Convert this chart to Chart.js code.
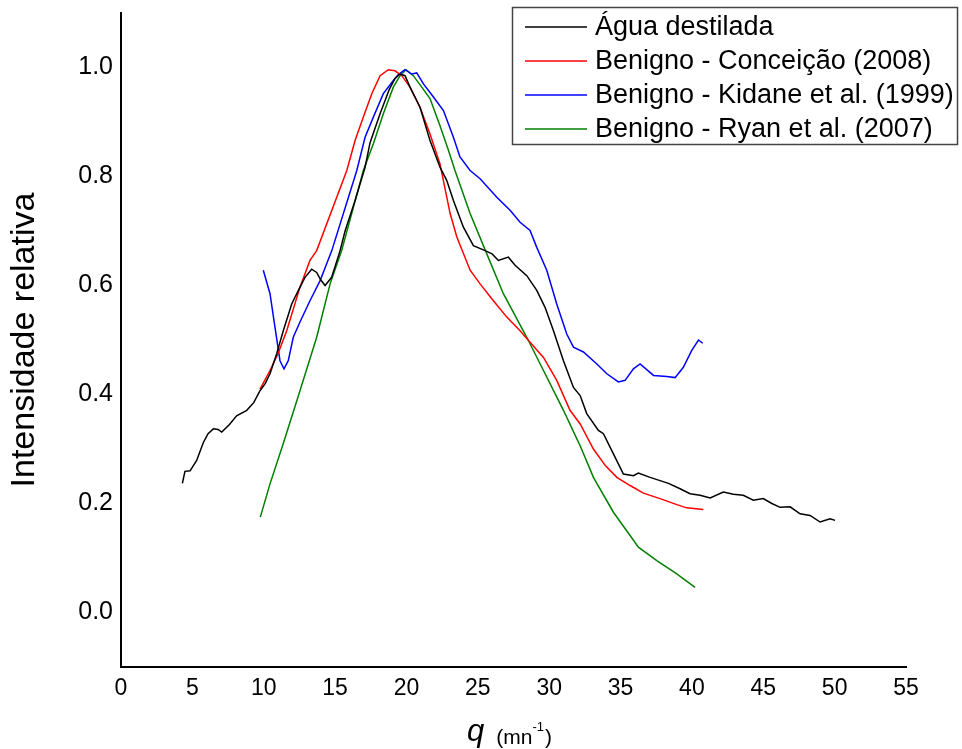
<!DOCTYPE html>
<html>
<head>
<meta charset="utf-8">
<script src="https://cdn.jsdelivr.net/npm/chart.js@4"></script>
<style>
html,body{margin:0;padding:0;background:#fff;}
canvas{display:block;}
</style>
</head>
<body>
<canvas id="c" width="962" height="749"></canvas>
<script>
// ---------- DATA ----------
const seriesLabels = ["Água destilada", "Benigno - Conceição (2008)", "Benigno - Kidane et al. (1999)", "Benigno - Ryan et al. (2007)"];
const seriesColors = ["#000000", "#ff0000", "#0000ff", "#008000"];

const aguaQ = [4.3, 4.48, 4.84, 5.3, 5.77, 6.1, 6.47, 6.8, 7.06, 7.6, 8.1, 8.81, 9.3, 9.74, 10.1, 10.44, 10.91, 11.37, 11.96, 12.43, 12.89, 13.36, 13.71, 14.0, 14.3, 14.76, 15.35, 15.7, 16.4, 17.1, 17.45, 18.15, 18.8, 19.2, 19.55, 19.9, 20.25, 20.95, 21.65, 22.35, 22.82, 23.29, 23.99, 24.69, 25.51, 26.0, 26.44, 27.14, 27.61, 28.43, 29.13, 29.71, 30.3, 31.0, 31.7, 32.17, 32.63, 33.45, 33.8, 34.5, 35.2, 35.9, 36.25, 37.07, 37.77, 38.36, 39.17, 39.87, 40.57, 41.28, 42.2, 42.91, 43.6, 44.3, 45.0, 45.6, 46.18, 46.88, 47.58, 48.28, 48.98, 49.68, 50.03];
const aguaI = [0.237, 0.259, 0.26, 0.279, 0.312, 0.328, 0.337, 0.336, 0.331, 0.345, 0.361, 0.371, 0.385, 0.407, 0.42, 0.438, 0.475, 0.517, 0.566, 0.591, 0.615, 0.63, 0.624, 0.61, 0.6, 0.615, 0.664, 0.70, 0.756, 0.817, 0.862, 0.915, 0.96, 0.98, 0.988, 0.985, 0.964, 0.927, 0.866, 0.817, 0.793, 0.756, 0.707, 0.673, 0.664, 0.658, 0.646, 0.652, 0.637, 0.618, 0.591, 0.56, 0.517, 0.462, 0.413, 0.398, 0.365, 0.334, 0.328, 0.291, 0.254, 0.251, 0.256, 0.248, 0.242, 0.237, 0.227, 0.218, 0.215, 0.21, 0.221, 0.217, 0.215, 0.206, 0.209, 0.2, 0.193, 0.194, 0.181, 0.178, 0.166, 0.172, 0.169];

const conceicaoQ = [9.74, 10.44, 11.0, 11.61, 12.54, 13.24, 13.71, 15.82, 16.4, 16.98, 17.57, 18.15, 18.73, 19.2, 19.67, 20.25, 20.95, 21.65, 22.35, 23.06, 23.53, 24.46, 25.16, 26.09, 27.03, 27.96, 28.66, 29.6, 30.53, 31.46, 32.17, 33.1, 33.92, 34.74, 35.67, 36.6, 37.77, 38.94, 39.64, 40.8];
const conceicaoI = [0.41, 0.444, 0.475, 0.517, 0.597, 0.646, 0.664, 0.811, 0.866, 0.909, 0.952, 0.985, 0.996, 0.994, 0.985, 0.964, 0.927, 0.878, 0.823, 0.732, 0.689, 0.628, 0.603, 0.572, 0.542, 0.517, 0.496, 0.468, 0.426, 0.371, 0.346, 0.3, 0.27, 0.248, 0.233, 0.219, 0.209, 0.198, 0.192, 0.189];

const kidaneQ = [9.97, 10.44, 10.79, 11.14, 11.42, 11.72, 12.07, 12.54, 13.24, 13.95, 14.41, 14.77, 16.52, 17.1, 17.68, 18.38, 19.08, 19.43, 19.9, 20.37, 20.72, 21.19, 21.89, 22.59, 23.29, 23.75, 24.46, 25.16, 26.33, 27.26, 27.96, 28.66, 29.13, 29.83, 30.53, 31.23, 31.7, 32.4, 33.34, 34.04, 34.85, 35.32, 35.9, 36.37, 37.31, 38.24, 38.82, 39.4, 39.99, 40.46, 40.76];
const kidaneI = [0.628, 0.585, 0.523, 0.462, 0.447, 0.462, 0.505, 0.533, 0.572, 0.609, 0.64, 0.664, 0.811, 0.872, 0.909, 0.952, 0.976, 0.987, 0.996, 0.988, 0.99, 0.97, 0.946, 0.921, 0.872, 0.836, 0.811, 0.796, 0.762, 0.738, 0.716, 0.701, 0.67, 0.628, 0.566, 0.511, 0.487, 0.478, 0.456, 0.438, 0.423, 0.426, 0.447, 0.456, 0.435, 0.433, 0.431, 0.45, 0.481, 0.5, 0.494];

const ryanQ = [9.76, 10.44, 11.37, 12.54, 13.71, 14.65, 15.46, 16.98, 17.68, 18.38, 19.08, 19.55, 19.97, 20.48, 21.07, 21.65, 22.35, 22.94, 23.4, 24.46, 25.63, 26.79, 28.43, 29.6, 31.0, 31.93, 32.17, 33.1, 34.5, 35.43, 36.25, 37.54, 38.94, 40.22];
const ryanI = [0.175, 0.236, 0.31, 0.407, 0.505, 0.603, 0.664, 0.811, 0.86, 0.915, 0.964, 0.985, 0.996, 0.985, 0.964, 0.943, 0.893, 0.848, 0.811, 0.732, 0.658, 0.585, 0.505, 0.444, 0.371, 0.319, 0.306, 0.248, 0.184, 0.15, 0.12, 0.095, 0.071, 0.046];

const xTicks = [0, 5, 10, 15, 20, 25, 30, 35, 40, 45, 50, 55];
const yTicks = [0.0, 0.2, 0.4, 0.6, 0.8, 1.0];
const yAxisTitle = "Intensidade relativa";
const xAxisTitleMain = "q";
const xAxisTitleUnit = "(mn";
const xAxisTitleSup = "-1";
const xAxisTitleEnd = ")";

// ---------- BUILD ----------
const FONT = '"Liberation Sans", Arial, sans-serif';
function pts(xs, ys) { return xs.map((x, i) => ({ x: x, y: ys[i] })); }
const allQ = [aguaQ, conceicaoQ, kidaneQ, ryanQ];
const allI = [aguaI, conceicaoI, kidaneI, ryanI];
const datasets = seriesLabels.map((lab, k) => ({
  label: lab,
  data: pts(allQ[k], allI[k]),
  borderColor: seriesColors[k],
  backgroundColor: seriesColors[k],
  borderWidth: 1.5,
  pointRadius: 0,
  tension: 0,
  fill: false
}));

const legendPlugin = {
  id: 'boxLegend',
  afterDraw(chart) {
    const ctx = chart.ctx;
    ctx.save();
    const bx = 512.5, by = 7.5, bw = 445, bh = 137;
    ctx.fillStyle = '#fff';
    ctx.fillRect(bx, by, bw, bh);
    ctx.strokeStyle = '#444';
    ctx.lineWidth = 1.5;
    ctx.strokeRect(bx, by, bw, bh);
    ctx.font = '27px ' + FONT;
    ctx.textBaseline = 'middle';
    ctx.textAlign = 'left';
    chart.data.datasets.forEach((ds, i) => {
      const y = 27 + i * 34;
      ctx.strokeStyle = ds.borderColor;
      ctx.lineWidth = 1.5;
      ctx.beginPath();
      ctx.moveTo(525, y);
      ctx.lineTo(587, y);
      ctx.stroke();
      ctx.fillStyle = '#000';
      ctx.fillText(ds.label, 595, y + 1);
    });
    ctx.restore();
  }
};

const xTitlePlugin = {
  id: 'xTitle',
  afterDraw(chart) {
    const ctx = chart.ctx;
    const area = chart.chartArea;
    ctx.save();
    ctx.fillStyle = '#000';
    ctx.textBaseline = 'alphabetic';
    ctx.textAlign = 'left';
    const fQ = 'italic 31px ' + FONT, fU = '21px ' + FONT, fS = '13px ' + FONT;
    ctx.font = fQ; const wQ = ctx.measureText(xAxisTitleMain).width;
    ctx.font = fU; const wU = ctx.measureText(xAxisTitleUnit).width; const wE = ctx.measureText(xAxisTitleEnd).width;
    ctx.font = fS; const wS = ctx.measureText(xAxisTitleSup).width;
    const gap = 12;
    const total = wQ + gap + wU + wS + 1 + wE;
    let x = (area.left + area.right) / 2 - total / 2 - 4;
    ctx.font = fQ; ctx.fillText(xAxisTitleMain, x, 741); x += wQ + gap;
    ctx.font = fU; ctx.fillText(xAxisTitleUnit, x, 744); x += wU;
    ctx.font = fS; ctx.fillText(xAxisTitleSup, x, 731); x += wS + 1;
    ctx.font = fU; ctx.fillText(xAxisTitleEnd, x, 744);
    ctx.restore();
  }
};

new Chart(document.getElementById('c'), {
  type: 'line',
  data: { datasets: datasets },
  plugins: [legendPlugin, xTitlePlugin],
  options: {
    responsive: false,
    animation: false,
    layout: { padding: { left: 0, right: 56, top: 13, bottom: 0 } },
    plugins: { legend: { display: false }, tooltip: { enabled: false } },
    scales: {
      x: {
        type: 'linear',
        min: 0, max: 55,
        afterBuildTicks(s) { s.ticks = xTicks.map(v => ({ value: v })); },
        afterFit(s) { s.height = 82; s.paddingLeft = 0; s.paddingRight = 0; },
        grid: { display: false, drawTicks: false },
        border: { display: true, color: '#000', width: 2 },
        ticks: { padding: 8, color: '#000', font: { family: FONT, size: 23 }, maxRotation: 0, autoSkip: false,
          callback: v => String(v) }
      },
      y: {
        type: 'linear',
        min: -0.1, max: 1.1,
        afterBuildTicks(s) { s.ticks = yTicks.map(v => ({ value: v })); },
        afterFit(s) { s.width = 121; s.paddingTop = 0; s.paddingBottom = 0; },
        grid: { display: false, drawTicks: false },
        border: { display: true, color: '#000', width: 2 },
        ticks: { padding: 8, color: '#000', font: { family: FONT, size: 25 },
          callback: v => Number(v).toFixed(1) },
        title: { display: true, text: yAxisTitle, color: '#000', font: { family: FONT, size: 34 }, padding: { top: 4, bottom: 0 } }
      }
    }
  }
});
</script>
</body>
</html>
